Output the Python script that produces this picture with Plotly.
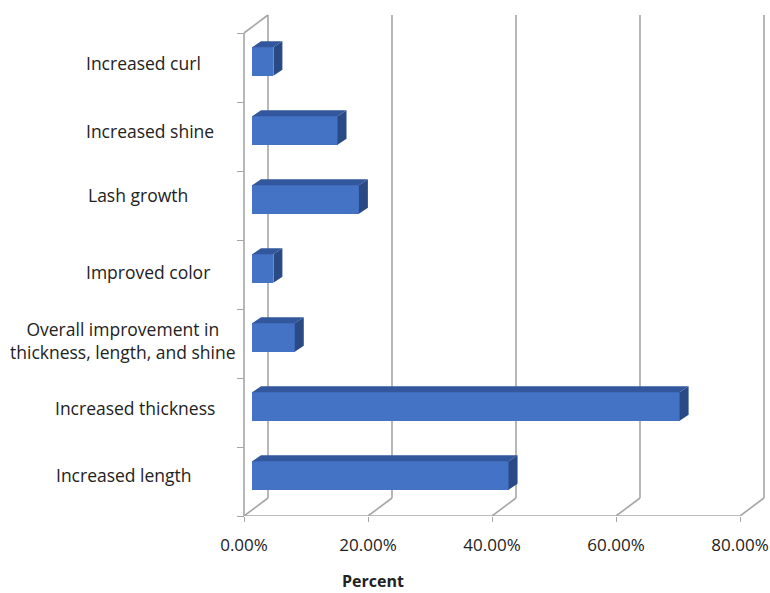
import plotly.graph_objects as go

# Survey responses: share of respondents reporting each effect (n = 29)
categories = [
    "Increased length",
    "Increased thickness",
    "Overall improvement in<br>thickness, length, and shine",
    "Improved color",
    "Lash growth",
    "Increased shine",
    "Increased curl",
]
percent = [41.38, 68.97, 6.90, 3.45, 17.24, 13.79, 3.45]
x_ticks = [0, 20, 40, 60, 80]
x_tick_labels = ["0.00%", "20.00%", "40.00%", "60.00%", "80.00%"]

# ---- page geometry (pixels) ----
W, H = 770, 593
X0_PX = 244          # 0% on the front edge of the floor
PX_PER_PCT = 6.2     # 124 px per 20%
FLOOR_PX = 516       # front floor line
CAT_PX = 69          # height of one category band

def dx(px):          # pixel distance -> percent units
    return px / PX_PER_PCT

def dy(px):          # pixel distance -> category units
    return px / CAT_PX

# oblique depth of the chart box and position of the bars inside it
DEPTH_X, DEPTH_Y = dx(24), dy(18)
BAR_OFF_X, BAR_OFF_Y = dx(8), dy(6)
BAR_D_X, BAR_D_Y = dx(9), dy(6)
BAR_W = 0.41

n = len(categories)
x_range = [dx(-X0_PX), dx(W - X0_PX)]
y_range = [0, dy(FLOOR_PX)]

GRID = "#a6a6a6"
FRONT = "#4472c4"
TOP = "#33579c"
SIDE = "#2a4a86"
TEXT = "#222222"
FONT = "Open Sans"

fig = go.Figure()

# front faces of the bars
y_front = [i + 0.5 + BAR_OFF_Y for i in range(n)]
fig.add_trace(go.Bar(
    orientation="h",
    x=percent,
    y=y_front,
    base=[BAR_OFF_X] * n,
    width=BAR_W,
    marker=dict(color=FRONT, line=dict(width=0)),
    hoverinfo="skip",
    showlegend=False,
))

# top and side faces of the bars
tx, ty, sx, sy = [], [], [], []
for v, yc in zip(percent, y_front):
    x1 = BAR_OFF_X
    x2 = BAR_OFF_X + v
    yt = yc + BAR_W / 2
    yb = yc - BAR_W / 2
    tx += [x1, x2, x2 + BAR_D_X, x1 + BAR_D_X, x1, None]
    ty += [yt, yt, yt + BAR_D_Y, yt + BAR_D_Y, yt, None]
    sx += [x2, x2, x2 + BAR_D_X, x2 + BAR_D_X, x2, None]
    sy += [yb, yt, yt + BAR_D_Y, yb + BAR_D_Y, yb, None]

for xs, ys, col in ((tx, ty, TOP), (sx, sy, SIDE)):
    fig.add_trace(go.Scatter(
        x=xs, y=ys, mode="lines", fill="toself", fillcolor=col,
        line=dict(width=0, color=col), hoverinfo="skip", showlegend=False,
    ))

# chart box: side wall, back-wall gridlines and floor gridlines
shapes = []
def seg(x0, y0, x1, y1):
    shapes.append(dict(type="line", xref="x", yref="y", x0=x0, y0=y0,
                       x1=x1, y1=y1, layer="below",
                       line=dict(color=GRID, width=1.6)))

seg(0, 0, 0, n)                                     # front edge of side wall
seg(0, n, DEPTH_X, n + DEPTH_Y)                     # top edge of side wall
seg(0, 0, x_ticks[-1], 0)                           # front edge of floor
for t in x_ticks:
    seg(t, 0, t + DEPTH_X, DEPTH_Y)                 # floor gridline
    seg(t + DEPTH_X, DEPTH_Y, t + DEPTH_X, n + DEPTH_Y)  # back-wall gridline

# category labels
label_pos = [(124, 475), (134.5, 408), (123, 340), (148, 272),
             (138, 195), (150, 131), (143, 63)]
annotations = []
for text, (px, py) in zip(categories, label_pos):
    annotations.append(dict(
        x=dx(px - X0_PX), y=dy(FLOOR_PX - py), xref="x", yref="y",
        text=text, showarrow=False, align="center",
        xanchor="center", yanchor="middle",
        font=dict(family=FONT, size=17.5, color=TEXT),
    ))
# axis title, placed below the plot area
annotations.append(dict(
    x=dx(373 - X0_PX), y=(FLOOR_PX - 581) / FLOOR_PX, xref="x", yref="paper",
    text="<b>Percent</b>", showarrow=False, xanchor="center", yanchor="middle",
    font=dict(family=FONT, size=16, color=TEXT),
))

fig.update_layout(
    width=W, height=H,
    margin=dict(l=0, r=0, t=0, b=H - FLOOR_PX, pad=0),
    paper_bgcolor="white", plot_bgcolor="white",
    shapes=shapes, annotations=annotations,
    bargap=0,
    xaxis=dict(
        range=x_range, showgrid=False, zeroline=False, showline=False,
        tickmode="array", tickvals=x_ticks, ticktext=x_tick_labels,
        ticks="outside", ticklen=5, tickcolor=GRID, tickwidth=1.3,
        ticklabelstandoff=9,
        tickfont=dict(family=FONT, size=17, color=TEXT),
        fixedrange=True,
    ),
    yaxis=dict(
        range=y_range, showgrid=False, zeroline=False, showline=False,
        anchor="free", position=X0_PX / W,
        tickmode="array", tickvals=list(range(n + 1)),
        ticks="outside", ticklen=7, tickcolor=GRID, tickwidth=1.3,
        showticklabels=False, fixedrange=True,
    ),
    showlegend=False,
)

fig.write_html("out.html")
